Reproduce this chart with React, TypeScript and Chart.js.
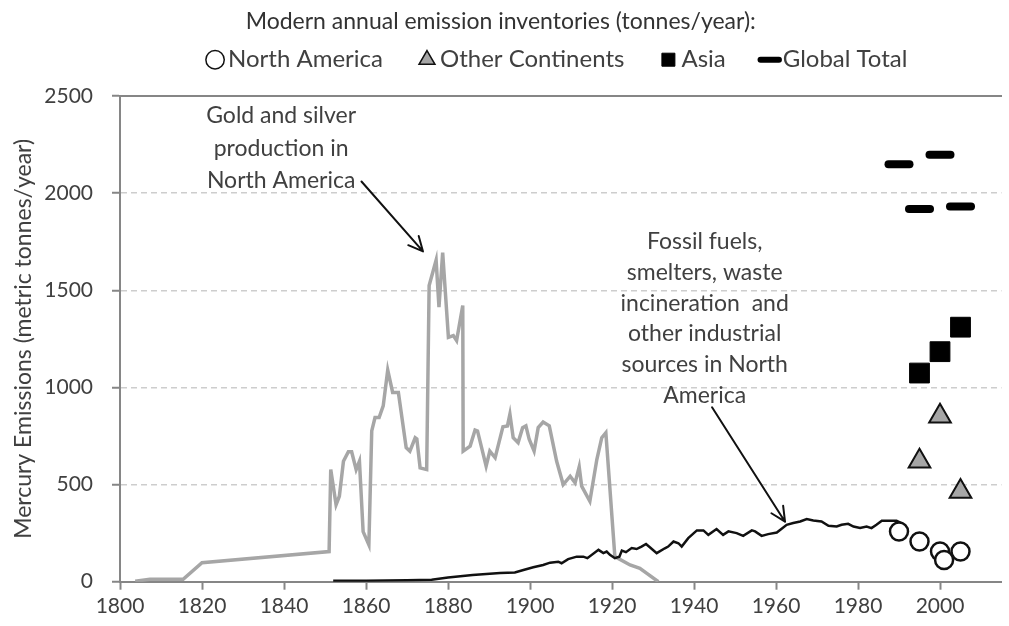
import React, { useEffect, useRef } from "react";
import { Chart, registerables } from "chart.js";

Chart.register(...registerables);

const FONT = "Lato, 'Open Sans', sans-serif";
const TEXT = "#404040";
const AXIS = "#868686";

// ---- Data ----
const goldYears = [
  1803.7, 1807.3, 1815.4, 1820, 1851, 1851.4, 1852.7, 1853.5, 1854.5, 1855.7,
  1856.5, 1857.6, 1858.4, 1859.3, 1860.7, 1861.4, 1862.2, 1863.2, 1864.2, 1865.3,
  1866.5, 1867.9, 1869.8, 1870.7, 1872, 1872.4, 1873.2, 1874.8, 1875.4, 1877.1,
  1877.8, 1878.7, 1880.1, 1881.3, 1882.1, 1883.6, 1883.7, 1885.4, 1886.6, 1887.2,
  1889.3, 1890.2, 1891.5, 1893.4, 1894.5, 1895.1, 1895.9, 1897.1, 1898.2, 1899,
  1899.8, 1901, 1902, 1903.2, 1904.7, 1906.5, 1908.1, 1909.8, 1911, 1912,
  1912.6, 1914.6, 1916.3, 1917.5, 1918.5, 1920.7, 1924.4, 1926.8, 1928.5, 1931.3,
];
const goldValues = [
  3, 12, 12, 98, 155, 577, 396, 440, 620, 669,
  669, 577, 620, 258, 190, 776, 845, 845, 905, 1089,
  974, 974, 690, 672, 741, 735, 586, 577, 1525, 1655,
  1413, 1694, 1258, 1267, 1241, 1422, 672, 698, 781, 776,
  595, 672, 638, 798, 802, 862, 741, 716, 793, 802,
  733, 672, 793, 822, 802, 620, 500, 543, 509, 591,
  492, 414, 629, 741, 767, 129, 86, 69, 43, 0,
];

const fossilYears = [
  1852, 1860, 1870, 1876, 1880, 1886, 1892.7, 1896.3, 1898.4, 1900.8,
  1903.2, 1904.9, 1906.9, 1907.7, 1909.3, 1911.4, 1913, 1914, 1916.7, 1917.9,
  1918.7, 1919.5, 1920.7, 1921.8, 1922.4, 1923.4, 1924.8, 1926, 1927.2, 1928.3,
  1929.3, 1930.9, 1932.9, 1933.7, 1935, 1936.2, 1937, 1938.6, 1940.7, 1942.3,
  1943.5, 1945.5, 1947.1, 1948.4, 1950.4, 1952, 1954.1, 1954.9, 1956.5, 1958.1,
  1960.2, 1962.6, 1964.2, 1965.9, 1967.5, 1969.1, 1971.1, 1972.8, 1974.8, 1976,
  1977.6, 1978.9, 1980.5, 1982.1, 1983.3, 1984.5, 1985.8, 1987.8, 1989.4, 1990.6,
];
const fossilValues = [
  5, 5, 7, 10, 22, 35, 45, 47, 60, 74,
  86, 98, 103, 95, 116, 129, 129, 121, 164, 147,
  155, 138, 121, 129, 160, 152, 173, 168, 181, 194,
  176, 147, 172, 181, 207, 198, 181, 224, 264, 264,
  241, 271, 241, 259, 250, 236, 264, 259, 236, 245,
  253, 293, 302, 310, 322, 315, 310, 288, 284, 293,
  298, 284, 276, 284, 276, 293, 314, 314, 314, 302,
];

const naYears = [1990, 1995, 2000, 2001, 2005];
const naValues = [258, 207, 155, 112, 155];
const otherYears = [1995, 2000, 2005];
const otherValues = [620, 852, 464];
const asiaYears = [1995, 2000, 2005];
const asiaValues = [1074, 1184, 1310];
const globalYears = [1990, 1995, 2000, 2005];
const globalValues = [2149, 1918, 2198, 1931];

const seriesNames = ["North America", "Other Continents", "Asia", "Global Total"];
const legendTitle = "Modern annual emission inventories (tonnes/year):";
const yTitle = "Mercury Emissions (metric tonnes/year)";

const xMin = 1800;
const xMax = 2015;
const xStep = 20;
const yMin = 0;
const yMax = 2500;
const yStep = 500;

const goldNote = ["Gold and silver", "production in", "North America"];
const goldNoteAt = [1839.3, 2398];
const goldArrow = [[1858.9, 2060], [1873.9, 1700]];
const fossilNote = [
  "Fossil fuels,",
  "smelters, waste",
  "incineration  and",
  "other industrial",
  "sources in North",
  "America",
];
const fossilNoteAt = [1942.6, 1751];
const fossilArrow = [[1944.4, 898], [1962.2, 309]];

const pts = (xs: number[], ys: number[]) => xs.map((x, i) => ({ x, y: ys[i] }));

function drawArrow(ctx: CanvasRenderingContext2D, x1: number, y1: number, x2: number, y2: number) {
  const ang = Math.atan2(y2 - y1, x2 - x1);
  const head = 16;
  const spread = 0.45;
  ctx.beginPath();
  ctx.moveTo(x1, y1);
  ctx.lineTo(x2, y2);
  ctx.moveTo(x2 - head * Math.cos(ang - spread), y2 - head * Math.sin(ang - spread));
  ctx.lineTo(x2, y2);
  ctx.lineTo(x2 - head * Math.cos(ang + spread), y2 - head * Math.sin(ang + spread));
  ctx.stroke();
}

const notesPlugin = {
  id: "notes",
  afterDatasetsDraw(chart: any) {
    const { ctx } = chart;
    const xs = chart.scales.x;
    const ys = chart.scales.y;
    ctx.save();
    ctx.fillStyle = TEXT;
    ctx.font = `23px ${FONT}`;
    ctx.textAlign = "center";
    ctx.textBaseline = "middle";
    const gx = xs.getPixelForValue(goldNoteAt[0]);
    const gy = ys.getPixelForValue(goldNoteAt[1]);
    goldNote.forEach((t, i) => ctx.fillText(t, gx, gy + i * 32.5));
    const fx = xs.getPixelForValue(fossilNoteAt[0]);
    const fy = ys.getPixelForValue(fossilNoteAt[1]);
    fossilNote.forEach((t, i) => ctx.fillText(t, fx, fy + i * 30.8));
    ctx.strokeStyle = "#111";
    ctx.lineWidth = 2;
    ctx.lineCap = "round";
    ctx.lineJoin = "round";
    for (const a of [goldArrow, fossilArrow]) {
      drawArrow(
        ctx,
        xs.getPixelForValue(a[0][0]),
        ys.getPixelForValue(a[0][1]),
        xs.getPixelForValue(a[1][0]),
        ys.getPixelForValue(a[1][1])
      );
    }
    ctx.restore();
  },
};

const capPlugin = {
  id: "caps",
  beforeDatasetDraw(chart: any, args: any) {
    if (args.index === 3) chart.ctx.lineCap = "round";
  },
  afterDatasetDraw(chart: any) {
    chart.ctx.lineCap = "butt";
  },
};

export default function App() {
  const ref = useRef<HTMLCanvasElement | null>(null);

  useEffect(() => {
    let chart: Chart | null = null;
    let cancelled = false;
    const make = () => {
      if (cancelled || !ref.current) return;
      Chart.defaults.font.family = FONT;
      chart = new Chart(ref.current, {
        type: "scatter",
        data: {
          datasets: [
            {
              label: seriesNames[0],
              data: pts(naYears, naValues),
              pointStyle: "circle",
              pointRadius: 9,
              pointBorderWidth: 2.5,
              pointBackgroundColor: "#ffffff",
              pointBorderColor: "#111111",
              backgroundColor: "#ffffff",
              borderColor: "#111111",
            },
            {
              label: seriesNames[1],
              data: pts(otherYears, otherValues),
              pointStyle: "triangle",
              pointRadius: 12.5,
              pointBorderWidth: 2,
              pointBackgroundColor: "#a6a6a6",
              pointBorderColor: "#111111",
              backgroundColor: "#a6a6a6",
              borderColor: "#111111",
            },
            {
              label: seriesNames[2],
              data: pts(asiaYears, asiaValues),
              pointStyle: "rect",
              pointRadius: 14,
              pointBorderWidth: 1,
              pointBackgroundColor: "#000000",
              pointBorderColor: "#000000",
              backgroundColor: "#000000",
              borderColor: "#000000",
            },
            {
              label: seriesNames[3],
              data: pts(globalYears, globalValues),
              pointStyle: "line",
              pointRadius: 10.5,
              pointBorderWidth: 8,
              pointBackgroundColor: "#000000",
              pointBorderColor: "#000000",
              backgroundColor: "#000000",
              borderColor: "#000000",
            },
            {
              label: "Fossil fuels",
              data: pts(fossilYears, fossilValues),
              showLine: true,
              pointRadius: 0,
              borderColor: "#111111",
              backgroundColor: "#111111",
              borderWidth: 2.5,
              tension: 0,
            },
            {
              label: "Gold and silver",
              data: pts(goldYears, goldValues),
              showLine: true,
              pointRadius: 0,
              borderColor: "#a6a6a6",
              backgroundColor: "#a6a6a6",
              borderWidth: 3.5,
              tension: 0,
            },
          ],
        },
        options: {
          responsive: false,
          animation: false,
          events: [],
          layout: { autoPadding: false, padding: { left: 0, right: 7.5, top: 0, bottom: 0 } },
          scales: {
            x: {
              type: "linear",
              position: "bottom",
              min: xMin,
              max: xMax,
              afterFit: (s: any) => {
                s.height = 44.3;
              },
              ticks: {
                stepSize: xStep,
                includeBounds: false,
                color: TEXT,
                font: { family: FONT, size: 21 },
                padding: 4,
                maxRotation: 0,
                callback: (v: any) => String(v),
              },
              grid: {
                display: true,
                drawOnChartArea: false,
                drawTicks: true,
                tickLength: 8,
                tickWidth: 2,
                tickColor: AXIS,
              },
              border: { display: true, color: AXIS, width: 2 },
            },
            x2: {
              type: "linear",
              position: "top",
              min: xMin,
              max: xMax,
              afterFit: (s: any) => {
                s.height = 14.3;
              },
              ticks: { display: false },
              grid: { display: true, drawOnChartArea: false, drawTicks: false },
              border: { display: true, color: AXIS, width: 2 },
            },
            y: {
              type: "linear",
              min: yMin,
              max: yMax,
              afterFit: (s: any) => {
                s.width = 120;
              },
              ticks: {
                stepSize: yStep,
                color: TEXT,
                font: { family: FONT, size: 21 },
                padding: 19,
                callback: (v: any) => String(v),
              },
              grid: {
                color: (c: any) => (c.tick && c.tick.value === 0 ? "rgba(0,0,0,0)" : "#cdcdcd"),
                lineWidth: 1.5,
                drawTicks: true,
                tickLength: 8,
                tickWidth: 2,
                tickColor: AXIS,
              },
              border: { display: true, color: AXIS, width: 2, dash: [6, 4] },
              title: {
                display: true,
                text: yTitle,
                color: TEXT,
                font: { family: FONT, size: 23 },
                padding: { top: 10, bottom: 0 },
              },
            },
          },
          plugins: {
            tooltip: { enabled: false },
            title: {
              display: true,
              text: legendTitle,
              align: "center",
              color: "#333333",
              font: { family: FONT, size: 23, weight: "normal" },
              padding: { top: 8.2, bottom: -31.1 },
            },
            legend: {
              display: true,
              position: "top",
              align: "center",
              fullSize: false,
              labels: {
                usePointStyle: true,
                boxWidth: 2,
                boxHeight: 13,
                padding: 43,
                color: TEXT,
                font: { family: FONT, size: 24 },
                generateLabels: (ch: any) => {
                  const items = (Chart.defaults.plugins.legend.labels as any).generateLabels(ch);
                  return items
                    .filter((it: any) => it.datasetIndex < 4)
                    .map((it: any) => {
                      if (it.pointStyle === "line") {
                        it.lineWidth = 6;
                        it.lineCap = "round";
                      } else if (it.pointStyle === "circle" || it.pointStyle === "triangle") {
                        it.lineWidth = 1.5;
                      }
                      return it;
                    });
                },
              },
            },
          },
        },
        plugins: [notesPlugin, capPlugin],
      } as any);
    };
    const fontsReady = (document as any).fonts
      ? Promise.all([
          (document as any).fonts.load(`24px Lato`),
          (document as any).fonts.load(`21px Lato`),
        ]).catch(() => null)
      : Promise.resolve(null);
    fontsReady.then(make);
    return () => {
      cancelled = true;
      if (chart) chart.destroy();
    };
  }, []);

  return (
    <div style={{ position: "absolute", left: 0, top: 0, width: 1009, height: 626, background: "#fff" }}>
      <canvas ref={ref} width={1009} height={626} style={{ display: "block" }} />
    </div>
  );
}
